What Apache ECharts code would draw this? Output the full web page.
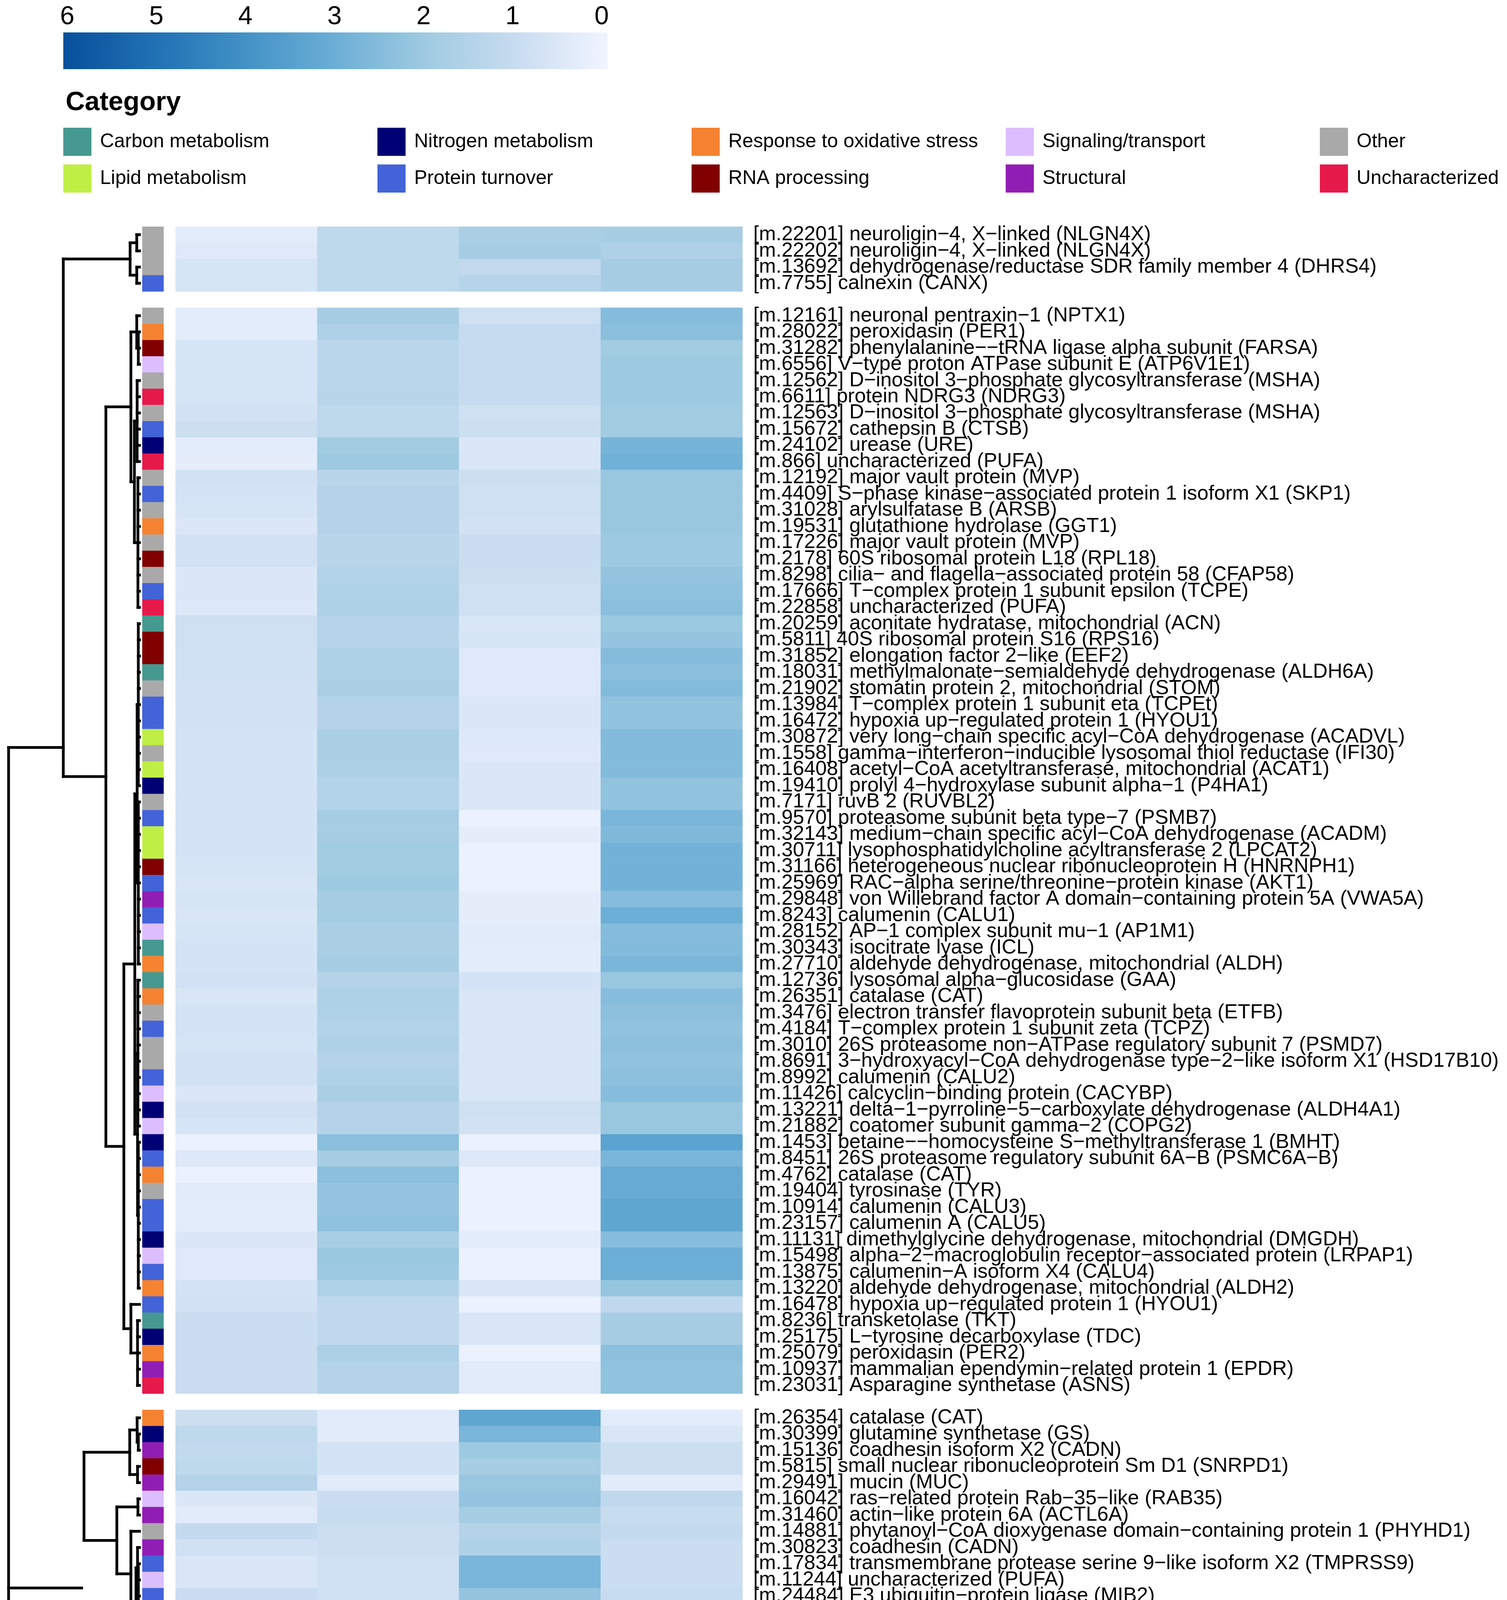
<!DOCTYPE html>
<html><head><meta charset="utf-8">
<script src="https://cdn.jsdelivr.net/npm/echarts@6/dist/echarts.min.js"></script>
<style>html,body{margin:0;padding:0;background:#fff;overflow:hidden}#chart{width:3857px;height:5665px}</style>
</head><body><div id="chart"></div>
<script>
const columns = ['NBOL', 'BOL', 'NBIC', 'BIC'];
const categoryNames = ['Carbon metabolism', 'Nitrogen metabolism', 'Response to oxidative stress', 'Signaling/transport', 'Other',
  'Lipid metabolism', 'Protein turnover', 'RNA processing', 'Structural', 'Uncharacterized'];
const categoryColors = ['#469990', '#000075', '#F58231', '#DCBEFF', '#A9A9A9', '#BFEF45', '#4363D8', '#800000', '#911EB4', '#E6194B'];
const palette = ['#EFF3FF', '#C6DBEF', '#9ECAE1', '#6BAED6', '#4292C6', '#2171B5', '#08519C'];
const colorbarTicks = [0, 1, 2, 3, 4, 5, 6];
const groupSizes = [4, 67, 22, 4, 19];

const rowLabels = [
  '[m.22201] neuroligin-4, X-linked (NLGN4X)',
  '[m.22202] neuroligin-4, X-linked (NLGN4X)',
  '[m.13692] dehydrogenase/reductase SDR family member 4 (DHRS4)',
  '[m.7755] calnexin (CANX)',
  '[m.12161] neuronal pentraxin-1 (NPTX1)',
  '[m.28022] peroxidasin (PER1)',
  '[m.31282] phenylalanine--tRNA ligase alpha subunit (FARSA)',
  '[m.6556] V-type proton ATPase subunit E (ATP6V1E1)',
  '[m.12562] D-inositol 3-phosphate glycosyltransferase (MSHA)',
  '[m.6611] protein NDRG3 (NDRG3)',
  '[m.12563] D-inositol 3-phosphate glycosyltransferase (MSHA)',
  '[m.15672] cathepsin B (CTSB)',
  '[m.24102] urease (URE)',
  '[m.866] uncharacterized (PUFA)',
  '[m.12192] major vault protein (MVP)',
  '[m.4409] S-phase kinase-associated protein 1 isoform X1 (SKP1)',
  '[m.31028] arylsulfatase B (ARSB)',
  '[m.19531] glutathione hydrolase (GGT1)',
  '[m.17226] major vault protein (MVP)',
  '[m.2178] 60S ribosomal protein L18 (RPL18)',
  '[m.8298] cilia- and flagella-associated protein 58 (CFAP58)',
  '[m.17666] T-complex protein 1 subunit epsilon (TCPE)',
  '[m.22858] uncharacterized (PUFA)',
  '[m.20259] aconitate hydratase, mitochondrial (ACN)',
  '[m.5811] 40S ribosomal protein S16 (RPS16)',
  '[m.31852] elongation factor 2-like (EEF2)',
  '[m.18031] methylmalonate-semialdehyde dehydrogenase (ALDH6A)',
  '[m.21902] stomatin protein 2, mitochondrial (STOM)',
  '[m.13984] T-complex protein 1 subunit eta (TCPEt)',
  '[m.16472] hypoxia up-regulated protein 1 (HYOU1)',
  '[m.30872] very long-chain specific acyl-CoA dehydrogenase (ACADVL)',
  '[m.1558] gamma-interferon-inducible lysosomal thiol reductase (IFI30)',
  '[m.16408] acetyl-CoA acetyltransferase, mitochondrial (ACAT1)',
  '[m.19410] prolyl 4-hydroxylase subunit alpha-1 (P4HA1)',
  '[m.7171] ruvB 2 (RUVBL2)',
  '[m.9570] proteasome subunit beta type-7 (PSMB7)',
  '[m.32143] medium-chain specific acyl-CoA dehydrogenase (ACADM)',
  '[m.30711] lysophosphatidylcholine acyltransferase 2 (LPCAT2)',
  '[m.31166] heterogeneous nuclear ribonucleoprotein H (HNRNPH1)',
  '[m.25969] RAC-alpha serine/threonine-protein kinase (AKT1)',
  '[m.29848] von Willebrand factor A domain-containing protein 5A (VWA5A)',
  '[m.8243] calumenin (CALU1)',
  '[m.28152] AP-1 complex subunit mu-1 (AP1M1)',
  '[m.30343] isocitrate lyase (ICL)',
  '[m.27710] aldehyde dehydrogenase, mitochondrial (ALDH)',
  '[m.12736] lysosomal alpha-glucosidase (GAA)',
  '[m.26351] catalase (CAT)',
  '[m.3476] electron transfer flavoprotein subunit beta (ETFB)',
  '[m.4184] T-complex protein 1 subunit zeta (TCPZ)',
  '[m.3010] 26S proteasome non-ATPase regulatory subunit 7 (PSMD7)',
  '[m.8691] 3-hydroxyacyl-CoA dehydrogenase type-2-like isoform X1 (HSD17B10)',
  '[m.8992] calumenin (CALU2)',
  '[m.11426] calcyclin-binding protein (CACYBP)',
  '[m.13221] delta-1-pyrroline-5-carboxylate dehydrogenase (ALDH4A1)',
  '[m.21882] coatomer subunit gamma-2 (COPG2)',
  '[m.1453] betaine--homocysteine S-methyltransferase 1 (BMHT)',
  '[m.8451] 26S proteasome regulatory subunit 6A-B (PSMC6A-B)',
  '[m.4762] catalase (CAT)',
  '[m.19404] tyrosinase (TYR)',
  '[m.10914] calumenin (CALU3)',
  '[m.23157] calumenin A (CALU5)',
  '[m.11131] dimethylglycine dehydrogenase, mitochondrial (DMGDH)',
  '[m.15498] alpha-2-macroglobulin receptor-associated protein (LRPAP1)',
  '[m.13875] calumenin-A isoform X4 (CALU4)',
  '[m.13220] aldehyde dehydrogenase, mitochondrial (ALDH2)',
  '[m.16478] hypoxia up-regulated protein 1 (HYOU1)',
  '[m.8236] transketolase (TKT)',
  '[m.25175] L-tyrosine decarboxylase (TDC)',
  '[m.25079] peroxidasin (PER2)',
  '[m.10937] mammalian ependymin-related protein 1 (EPDR)',
  '[m.23031] Asparagine synthetase (ASNS)',
  '[m.26354] catalase (CAT)',
  '[m.30399] glutamine synthetase (GS)',
  '[m.15136] coadhesin isoform X2 (CADN)',
  '[m.5815] small nuclear ribonucleoprotein Sm D1 (SNRPD1)',
  '[m.29491] mucin (MUC)',
  '[m.16042] ras-related protein Rab-35-like (RAB35)',
  '[m.31460] actin-like protein 6A (ACTL6A)',
  '[m.14881] phytanoyl-CoA dioxygenase domain-containing protein 1 (PHYHD1)',
  '[m.30823] coadhesin (CADN)',
  '[m.17834] transmembrane protease serine 9-like isoform X2 (TMPRSS9)',
  '[m.11244] uncharacterized (PUFA)',
  '[m.24484] E3 ubiquitin-protein ligase (MIB2)',
  '[m.4033] deleted in malignant brain tumors 1 protein (DMBT1)',
  '[m.6107] peroxidasin (PER3)',
  '[m.1667] hemicentin-2 isoform X2 (HMCN)',
  '[m.23025] Ras GTPase-activating protein IQGAP1 (IQGAP1)',
  '[m.16788] uncharacterized (PUFA)',
  '[m.21884] coatomer subunit gamma-2 (COPG2)',
  '[m.10369] uncharacterized (PUFA)',
  '[m.4185] T-complex protein 1 subunit zeta (TCPZ)',
  '[m.6547] uncharacterized (PUFA)',
  '[m.15241] uncharacterized (PUFA)',
  '[m.3410] dickkopf-related protein 3 (DKK3)',
  '[m.17169] ZP domain-containing protein (ZPLD1)',
  '[m.27749] phospholipase B 2 (PLIP)',
  '[m.13404] ZP domain-containing protein (ZPLD1)',
  '[m.9772] leukocyte tyrosine kinase receptor (LTK)',
  '[m.19850] neuroglobin (NGB)',
  '[m.1178] trifunctional enzyme subunit alpha (HADHA)',
  '[m.31123] RNA-binding protein 8A-like (RBM8A)',
  '[m.20445] ZP domain-containing protein (ZPLD1)',
  '[m.22454] collagen alpha-1(VII) chain (COL7A1)',
  '[m.7276] fibronectin type III domain-containing protein (FNDC)',
  '[m.9562] Cleavage and polyadenylation specificity factor subunit 2 (CPSF2)',
  '[m.5948] selenium-binding protein 1 (SELENBP1)',
  '[m.9389] coadhesin (CADN_ACRMI)',
  '[m.14763] phosphoserine aminotransferase isoform X1 (PSAT1)',
  '[m.30227] neurogenic locus notch homolog protein 1 (NOTCH1)',
  '[m.15955] NPC intracellular cholesterol transporter 2 (NPC2)',
  '[m.28098] sporulation-specific protein 15 (SPO15)',
  '[m.25747] ZP domain-containing protein (ZPLD1)',
  '[m.23145] uncharacterized (PUFA)',
  '[m.2781] alkaline phosphatase (ALP)',
  '[m.21666] alkaline phosphatase (ALP)',
  '[m.24131] alkaline phosphatase isoform X1 (ALP)'
];

// index into categoryNames
const rowCategory = [
  4, 4, 4, 6,
  4, 2, 7, 3, 4, 9, 4, 6, 1, 9, 4, 6, 4, 2, 4, 7, 4, 6, 9, 0, 7, 7, 0, 4, 6, 6, 5, 4, 5, 1, 4, 6, 5, 5, 7, 6,
  8, 6, 3, 0, 2, 0, 2, 4, 6, 4, 4, 6, 3, 1, 3, 1, 6, 2, 4, 6, 6, 1, 3, 6, 2, 6, 0, 1, 2, 8, 9,
  2, 1, 8, 7, 8, 3, 8, 4, 8, 6, 3, 6, 4, 2, 4, 9, 9, 3, 9, 6, 9, 9,
  4, 4, 5, 4,
  4, 4, 5, 7, 4, 8, 8, 7, 4, 8, 1, 3, 3, 3, 4, 9, 6, 6, 6
];

const nbol = [
  0.3, 0.4, 0.6, 0.6,
  0.3, 0.3, 0.6, 0.6, 0.6, 0.6, 0.7, 0.85, 0.3, 0.25, 0.7, 0.65, 0.6, 0.5, 0.7, 0.7, 0.5, 0.5, 0.45, 0.8,
  0.8, 0.75, 0.75, 0.7, 0.7, 0.7, 0.65, 0.65, 0.65, 0.65, 0.65, 0.65, 0.65, 0.65, 0.6, 0.55, 0.6, 0.55, 0.6, 0.65,
  0.65, 0.7, 0.55, 0.65, 0.65, 0.6, 0.7, 0.7, 0.5, 0.7, 0.6, 0.1, 0.45, 0.1, 0.35, 0.3, 0.3, 0.5, 0.4, 0.4,
  0.65, 0.7, 0.9, 0.9, 0.9, 0.9, 0.9,
  0.85, 1.2, 1.1, 1.2, 1.45, 0.5, 0.35, 1.05, 0.75, 0.55, 0.55, 0.9, 0.7, 0.35, 0.5, 0.15, 0.1, 0.1, 0.1, 0.7, 0.3, 0.1,
  2.35, 1.45, 2.2, 1.55,
  1.3, 1.5, 1.9, 1.7, 1.8, 1.8, 1.8, 2.05, 2.0, 1.9, 2.95, 2.95, 3.0, 2.2, 1.35, 1.8, 1.9, 1.9, 1.9
];
const bol = [
  1.2, 1.2, 1.2, 1.2,
  1.8, 1.6, 1.3, 1.3, 1.3, 1.35, 1.2, 1.2, 1.9, 2.0, 1.35, 1.45, 1.45, 1.45, 1.35, 1.35, 1.5, 1.55, 1.6, 1.4,
  1.4, 1.6, 1.6, 1.7, 1.45, 1.45, 1.7, 1.7, 1.65, 1.5, 1.5, 1.8, 1.8, 1.9, 1.9, 2.0, 1.8, 1.85, 1.7, 1.7,
  1.8, 1.45, 1.6, 1.55, 1.5, 1.6, 1.45, 1.55, 1.7, 1.45, 1.45, 2.4, 1.8, 2.4, 2.2, 2.2, 2.3, 1.75, 2.1, 2.0,
  1.55, 1.15, 1.15, 1.15, 1.65, 1.45, 1.45,
  0.35, 0.35, 0.65, 0.65, 0.35, 0.9, 0.95, 0.85, 0.85, 0.75, 0.75, 0.75, 0.55, 0.1, 0.5, 0.3, 0.1, 0.1, 0.1, 0.7, 0.55, 0.3,
  0.1, 0.65, 0.3, 0.65,
  0.9, 0.95, 0.95, 0.95, 0.95, 0.95, 0.95, 0.95, 0.95, 0.95, 0.3, 0.3, 0.35, 0.5, 0.85, 0.85, 0.7, 0.7, 0.7
];
const nbic = [
  1.7, 1.8, 1.1, 1.4,
  0.8, 1.0, 1.0, 1.0, 1.0, 1.0, 0.8, 0.85, 0.5, 0.55, 0.85, 0.8, 0.8, 0.7, 0.9, 0.9, 0.85, 0.8, 0.8, 0.55,
  0.6, 0.4, 0.4, 0.4, 0.5, 0.5, 0.45, 0.4, 0.5, 0.5, 0.5, 0.1, 0.25, 0.1, 0.1, 0.1, 0.25, 0.25, 0.35, 0.3,
  0.3, 0.65, 0.55, 0.55, 0.55, 0.5, 0.55, 0.55, 0.55, 0.8, 0.7, 0.1, 0.45, 0.1, 0.1, 0.1, 0.1, 0.3, 0.1, 0.1,
  0.55, 0.1, 0.55, 0.55, 0.1, 0.35, 0.35,
  3.3, 2.7, 2.0, 1.8, 2.1, 2.2, 1.8, 1.45, 1.6, 2.7, 2.7, 2.2, 2.45, 5.1, 3.6, 5.2, 6.0, 6.0, 6.0, 2.45, 4.5, 5.3,
  1.9, 1.35, 1.05, 0.9,
  0.55, 0.5, 0.1, 0.35, 0.1, 0.1, 0.35, 0.05, 0.05, 0.05, 0.25, 0.15, 0.5, 0.7, 0.9, 0.4, 0.5, 0.65, 0.65
];
const bic = [
  1.8, 1.6, 1.8, 1.8,
  2.5, 2.4, 1.9, 2.0, 2.0, 2.0, 1.9, 1.9, 2.8, 2.9, 2.1, 2.1, 2.1, 2.1, 2.0, 2.0, 2.2, 2.3, 2.4, 2.05,
  2.2, 2.5, 2.4, 2.55, 2.25, 2.25, 2.55, 2.55, 2.55, 2.25, 2.25, 2.7, 2.6, 2.85, 2.85, 2.85, 2.45, 3.0, 2.5, 2.55,
  2.7, 2.1, 2.45, 2.35, 2.25, 2.35, 2.25, 2.35, 2.45, 2.1, 2.1, 3.4, 2.7, 3.1, 3.1, 3.3, 3.3, 2.45, 3.0, 3.0,
  2.15, 1.15, 1.8, 1.8, 2.35, 2.25, 2.25,
  0.3, 0.55, 0.85, 0.85, 0.35, 1.15, 0.95, 1.05, 0.9, 0.9, 0.9, 0.95, 0.65, 0.2, 0.5, 0.3, 0.1, 0.1, 0.1, 0.85, 0.55, 0.35,
  0.1, 0.8, 0.4, 0.8,
  1.35, 1.35, 1.3, 1.35, 1.35, 1.45, 1.2, 1.2, 1.2, 1.2, 0.55, 0.55, 0.5, 0.85, 1.15, 1.1, 0.95, 0.95, 0.95
];

// Row dendrograms per slice: [height, child, child, ...]; a number is a row index
const sliceTrees = [
  [24, [7, 0, 1], [7, 2, 3]],
  [86,
    [22, [7, 4, [3, 5, 6, 7]], [13, [6, 8, 9, 10, 11, 12, 13], [4, 14, 15, 16, 17, 18, 19, 20, 21, 22]]],
    [40,
      [12, [6, [3, 23, 24, 25, 26, 27, 28, 29, 30, 31, 32, 33], [3, 34, 35, 36, 37, 38, 39, 40, 41, 42, 43, 44]],
           [5, [4, 45, 46, 47, 48, 49, 50, 51, 52, 53, 54], [3, 55, 56, 57, 58, 59, 60, 61, 62, 63, 64]]],
      [22, 65, [5, 66, 67, 68, 69, 70]]]],
  [142,
    [25, [6, 71, [3, 72, 73]], [5, 74, 75]],
    [58, [4, 76, 77], [22, 78, [9, [5, 79, [3, 80, 81, 82, 83]], [4, 84, [2, 85, 86, 87, 88, 89, 90, 91, 92]]]]]],
  [44, [6, 93, 94], [6, 95, 96]],
  [74,
    [14, [6, 97, 98, 99, 100], [4, 101, 102, 103, 104, 105, 106]],
    [32, [7, [3, 107, 108], [4, 109, 110]], [17, 111, [8, 112, [4, 113, 114, 115]]]]]
];
// Slice-level dendrogram: numbers are slice indices; ['stub', slice, height] is an unattached branch
const parentTree = [335, [195, 0, 1], ['stub', 2, 148], [200, 3, 4]];

const FONT = "'Liberation Sans', Arial, Helvetica, sans-serif";
const rowGroup = [];
groupSizes.forEach((n, g) => { for (let k = 0; k < n; k++) rowGroup.push(g); });
const rowSlot = rowGroup.map((g, i) => i + g);
const nSlots = rowLabels.length + groupSizes.length - 1;
const slotLabels = new Array(nSlots).fill('');
rowSlot.forEach((s, i) => { slotLabels[s] = rowLabels[i]; });
const slotIds = slotLabels.map((_, i) => String(i));

// dendrogram segments [h1, pos1, h2, pos2]
const segs = [];
const leafPos = i => rowSlot[i] + 0.5;
function walk(node) {
  if (typeof node === 'number') return { h: 0, y: leafPos(node), n: 1 };
  const h = node[0];
  const kids = node.slice(1).map(walk);
  const y0 = kids[0].y, y1 = kids[kids.length - 1].y;
  segs.push([h, y0, h, y1]);
  kids.forEach(k => segs.push([k.h, k.y, h, k.y]));
  return { h, y: (y0 + y1) / 2, n: kids.reduce((s, k) => s + k.n, 0) };
}
const sliceInfo = sliceTrees.map(walk);
function walkParent(node) {
  if (typeof node === 'number') return sliceInfo[node];
  if (node[0] === 'stub') {
    const rows = rowGroup.map((g, i) => g === node[1] ? i : -1).filter(i => i >= 0);
    const y = rows.reduce((s, i) => s + leafPos(i), 0) / rows.length;
    return { h: node[2], y, n: rows.length };
  }
  const h = node[0];
  const kids = node.slice(1).map(walkParent);
  segs.push([h, kids[0].y, h, kids[kids.length - 1].y]);
  kids.forEach(k => segs.push([k.h, k.y, h, k.y]));
  const n = kids.reduce((s, k) => s + k.n, 0);
  return { h, y: kids.reduce((s, k) => s + k.y * k.n, 0) / n, n };
}
walkParent(parentTree);

const valueCols = [nbol, bol, nbic, bic];
const heatData = [];
rowLabels.forEach((_, i) => valueCols.forEach((col, c) => heatData.push([c, rowSlot[i], col[i]])));
const annData = rowLabels.map((_, i) => [0, rowSlot[i], rowCategory[i]]);
const barData = colorbarTicks.slice(0, -1).map((v, i) => [v, colorbarTicks[i + 1], i]);

const TOP = 580, HEIGHT = 4979;
const chart = echarts.init(document.getElementById('chart'), null, { renderer: 'canvas', width: 3857, height: 5665 });
const hidden = { show: false };
const legendItem = (name, i) => ({
  data: [name],
  left: 162 + (i % 5) * 804, top: i < 5 ? 327 : 421, padding: 0,
  orient: 'horizontal', icon: 'rect', itemWidth: 72, itemHeight: 72,
  selectedMode: false,
  textStyle: { fontFamily: FONT, fontSize: 50, color: '#000', padding: [0, 0, 0, 17] }
});
const option = {
  animation: false,
  backgroundColor: '#ffffff',
  title: { text: 'Category', left: 163, top: 224, padding: 5,
    textStyle: { fontFamily: FONT, fontSize: 68, fontWeight: 'bold', color: '#000' } },
  legend: categoryNames.map(legendItem),
  grid: [
    { left: 162, top: 83, width: 1393, height: 94 },
    { left: 22, top: TOP, width: 335, height: HEIGHT },
    { left: 364, top: TOP, width: 55, height: HEIGHT },
    { left: 449, top: TOP, width: 1451, height: HEIGHT }
  ],
  xAxis: [
    { gridIndex: 0, type: 'value', position: 'top', min: -0.066, max: 6.044, inverse: true,
      axisLine: hidden, axisTick: hidden, splitLine: hidden,
      axisLabel: { customValues: colorbarTicks, fontFamily: FONT, fontSize: 66, color: '#000', margin: 6 } },
    { gridIndex: 1, type: 'value', min: 0, max: 335, inverse: true, show: false },
    { gridIndex: 2, type: 'category', data: ['Category'], axisLine: hidden, axisTick: hidden,
      axisLabel: { fontFamily: FONT, fontSize: 50, fontWeight: 'bold', color: '#000', margin: 17, align: 'right', padding: [0, -14, 0, 0] } },
    { gridIndex: 3, type: 'category', data: columns, axisLine: hidden, axisTick: hidden,
      axisLabel: { fontFamily: FONT, fontSize: 50, color: '#000', margin: 17 } }
  ],
  yAxis: [
    { gridIndex: 0, type: 'value', min: 0, max: 1, show: false },
    { gridIndex: 1, type: 'value', min: 0, max: nSlots, inverse: true, show: false },
    { gridIndex: 2, type: 'category', data: slotIds, inverse: true, show: false },
    { gridIndex: 3, type: 'category', data: slotIds, inverse: true, position: 'right',
      axisLine: hidden, axisTick: hidden,
      axisLabel: { interval: 0, fontFamily: FONT, fontSize: 52, color: '#000', margin: 28,
        formatter: (v, idx) => slotLabels[idx].replace(/-/g, '\u2212') } }
  ],
  visualMap: { type: 'continuous', show: false, seriesIndex: 3, dimension: 2, min: 0, max: 6,
    inRange: { color: palette } },
  series: [
    { type: 'custom', xAxisIndex: 0, yAxisIndex: 0, data: barData, encode: { x: [0, 1] }, clip: false,
      renderItem: (params, api) => {
        const v0 = api.value(0), v1 = api.value(1), i = api.value(2);
        const a = api.coord([v0, 0]), b = api.coord([v1, 1]);
        const cs = params.coordSys;
        const xl = Math.min(a[0], b[0]), xr = Math.max(a[0], b[0]);
        const children = [{ type: 'rect', shape: { x: xl - 0.5, y: b[1], width: xr - xl + 1, height: a[1] - b[1] },
          style: { fill: new echarts.graphic.LinearGradient(0, 0, 1, 0, [
            { offset: 0, color: palette[i + 1] }, { offset: 1, color: palette[i] }]) } }];
        if (i === 0) children.push({ type: 'rect', shape: { x: xr - 0.5, y: b[1], width: cs.x + cs.width - xr + 0.5, height: a[1] - b[1] }, style: { fill: palette[0] } });
        if (i === barData.length - 1) children.push({ type: 'rect', shape: { x: cs.x, y: b[1], width: xl - cs.x + 0.5, height: a[1] - b[1] }, style: { fill: palette[palette.length - 1] } });
        return { type: 'group', children };
      } },
    { type: 'custom', xAxisIndex: 1, yAxisIndex: 1, data: segs, encode: { x: [0, 2], y: [1, 3] }, clip: false,
      renderItem: (params, api) => {
        const p1 = api.coord([api.value(0), api.value(1)]);
        const p2 = api.coord([api.value(2), api.value(3)]);
        return { type: 'line', shape: { x1: p1[0], y1: p1[1], x2: p2[0], y2: p2[1] },
          style: { stroke: '#000', lineWidth: 7, lineCap: 'square' } };
      } },
    { type: 'custom', xAxisIndex: 2, yAxisIndex: 2, data: annData, encode: { x: 0, y: 1 },
      renderItem: (params, api) => {
        const c = api.coord([api.value(0), api.value(1)]);
        const s = api.size([1, 1]);
        return { type: 'rect', shape: { x: c[0] - s[0] / 2, y: c[1] - s[1] / 2, width: s[0], height: s[1] + 0.6 },
          style: { fill: categoryColors[api.value(2)] } };
      } },
    { type: 'custom', xAxisIndex: 3, yAxisIndex: 3, data: heatData, encode: { x: 0, y: 1 },
      renderItem: (params, api) => {
        const c = api.coord([api.value(0), api.value(1)]);
        const s = api.size([1, 1]);
        return { type: 'rect', shape: { x: c[0] - s[0] / 2, y: c[1] - s[1] / 2, width: s[0] + 0.6, height: s[1] + 0.6 },
          style: { fill: api.visual('color') } };
      } }
  ].concat(categoryNames.map((name, i) => ({
    type: 'custom', name, coordinateSystem: 'none', data: [], renderItem: () => null,
    itemStyle: { color: categoryColors[i] }
  })))
};
chart.setOption(option);
</script>
</body></html>
